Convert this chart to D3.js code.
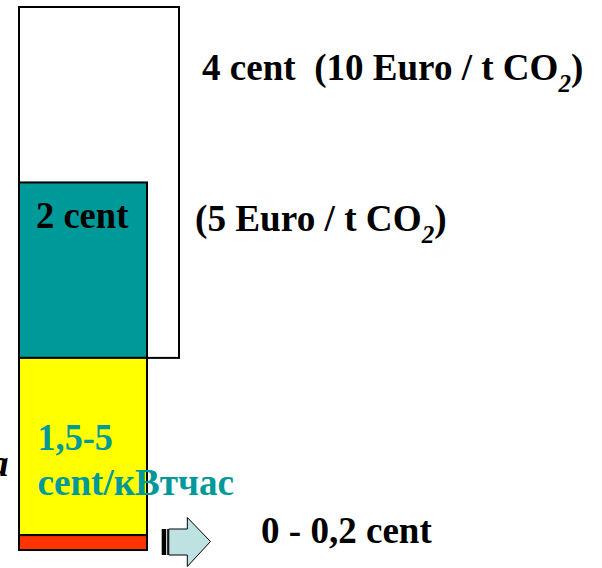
<!DOCTYPE html>
<html><head><meta charset="utf-8">
<script src="https://cdn.jsdelivr.net/npm/d3@7"></script>
<style>body{margin:0;background:#fff;overflow:hidden}</style>
</head><body><svg id="c" width="602" height="568"></svg>
<script>
// Stacked cost components (cent per kWh), bottom to top
const segments = ["fuel", "generation", "co2_5", "co2_10"];
const segmentStart = [0, 0.17, 2.19, 2.19];
const segmentValues = [0.17, 2.02, 2.0, 4.0];
const segmentColors = ["#FF3300", "#FFFF00", "#009999", "#FFFFFF"];
const segmentWide = [false, false, false, true];
const labelMain = ["0 - 0,2 cent", "1,5-5", "2 cent", "4 cent  (10 Euro / t CO"];
const labelExtra = ["", "cent/кВтчас", "(5 Euro / t CO", ""];

const svg = d3.select("#c");
const y = d3.scaleLinear().domain([0, 6.19]).range([550, 7]);
const x = d3.scaleLinear().domain([0, 5]).range([19, 179]);

const order = [3, 2, 1, 0];
svg.selectAll("rect.seg").data(order).join("rect")
  .attr("class", "seg")
  .attr("x", x(0))
  .attr("width", i => (segmentWide[i] ? x(5) : x(4)) - x(0))
  .attr("y", i => y(segmentStart[i] + segmentValues[i]))
  .attr("height", i => y(segmentStart[i]) - y(segmentStart[i] + segmentValues[i]))
  .attr("fill", i => segmentColors[i])
  .attr("stroke", "#000").attr("stroke-width", 2);

// arrow
const ag = svg.append("g");
ag.append("rect").attr("x", 161.7).attr("y", 529).attr("width", 4.5).attr("height", 26).attr("fill", "#000");
ag.append("rect").attr("x", 167.2).attr("y", 529).attr("width", 1.6).attr("height", 26).attr("fill", "#000");
ag.append("path")
  .attr("d", "M168.8,529 L187.3,529 L187.3,517.5 L210.5,541.5 L187.3,566.5 L187.3,555 L168.8,555 Z")
  .attr("fill", "#BEE2E2").attr("stroke", "#000").attr("stroke-width", 1);

const font = "'Liberation Serif', 'Times New Roman', serif";
function fit(build, x0, x1, base, size, color, italic) {
  const g = svg.append("g");
  const t = g.append("text").attr("x", 0).attr("y", 0)
    .style("font-family", font).style("font-weight", "bold")
    .style("font-size", size + "px").style("white-space", "pre")
    .style("font-style", italic ? "italic" : "normal")
    .attr("fill", color);
  build(t);
  const bb = t.node().getBBox();
  const s = x1 != null ? (x1 - x0) / bb.width : 1;
  g.attr("transform", `translate(${x0 - bb.x * s},${base}) scale(${s},1)`);
}
function co2(t, text) {
  t.append("tspan").text(text);
  t.append("tspan").text("2").style("font-size", "25px").style("font-style", "italic").attr("dy", 12);
  t.append("tspan").text(")").attr("dy", -12);
}

fit(t => co2(t, labelMain[3]), 202, 583.5, 80, 37, "#000");
fit(t => co2(t, labelExtra[2]), 195, 446.7, 231, 37, "#000");
fit(t => t.text(labelMain[2]), 36, 129, 228, 37, "#000");
fit(t => t.text(labelMain[1]), 37.5, 113, 450, 37, "#009999");
fit(t => t.text(labelExtra[1]), 37.5, 234, 495, 37, "#009999");
fit(t => t.text(labelMain[0]), 261, 432.5, 543, 37, "#000");
fit(t => t.text("a"), -10, null, 476, 37, "#000", true);
</script></body></html>
